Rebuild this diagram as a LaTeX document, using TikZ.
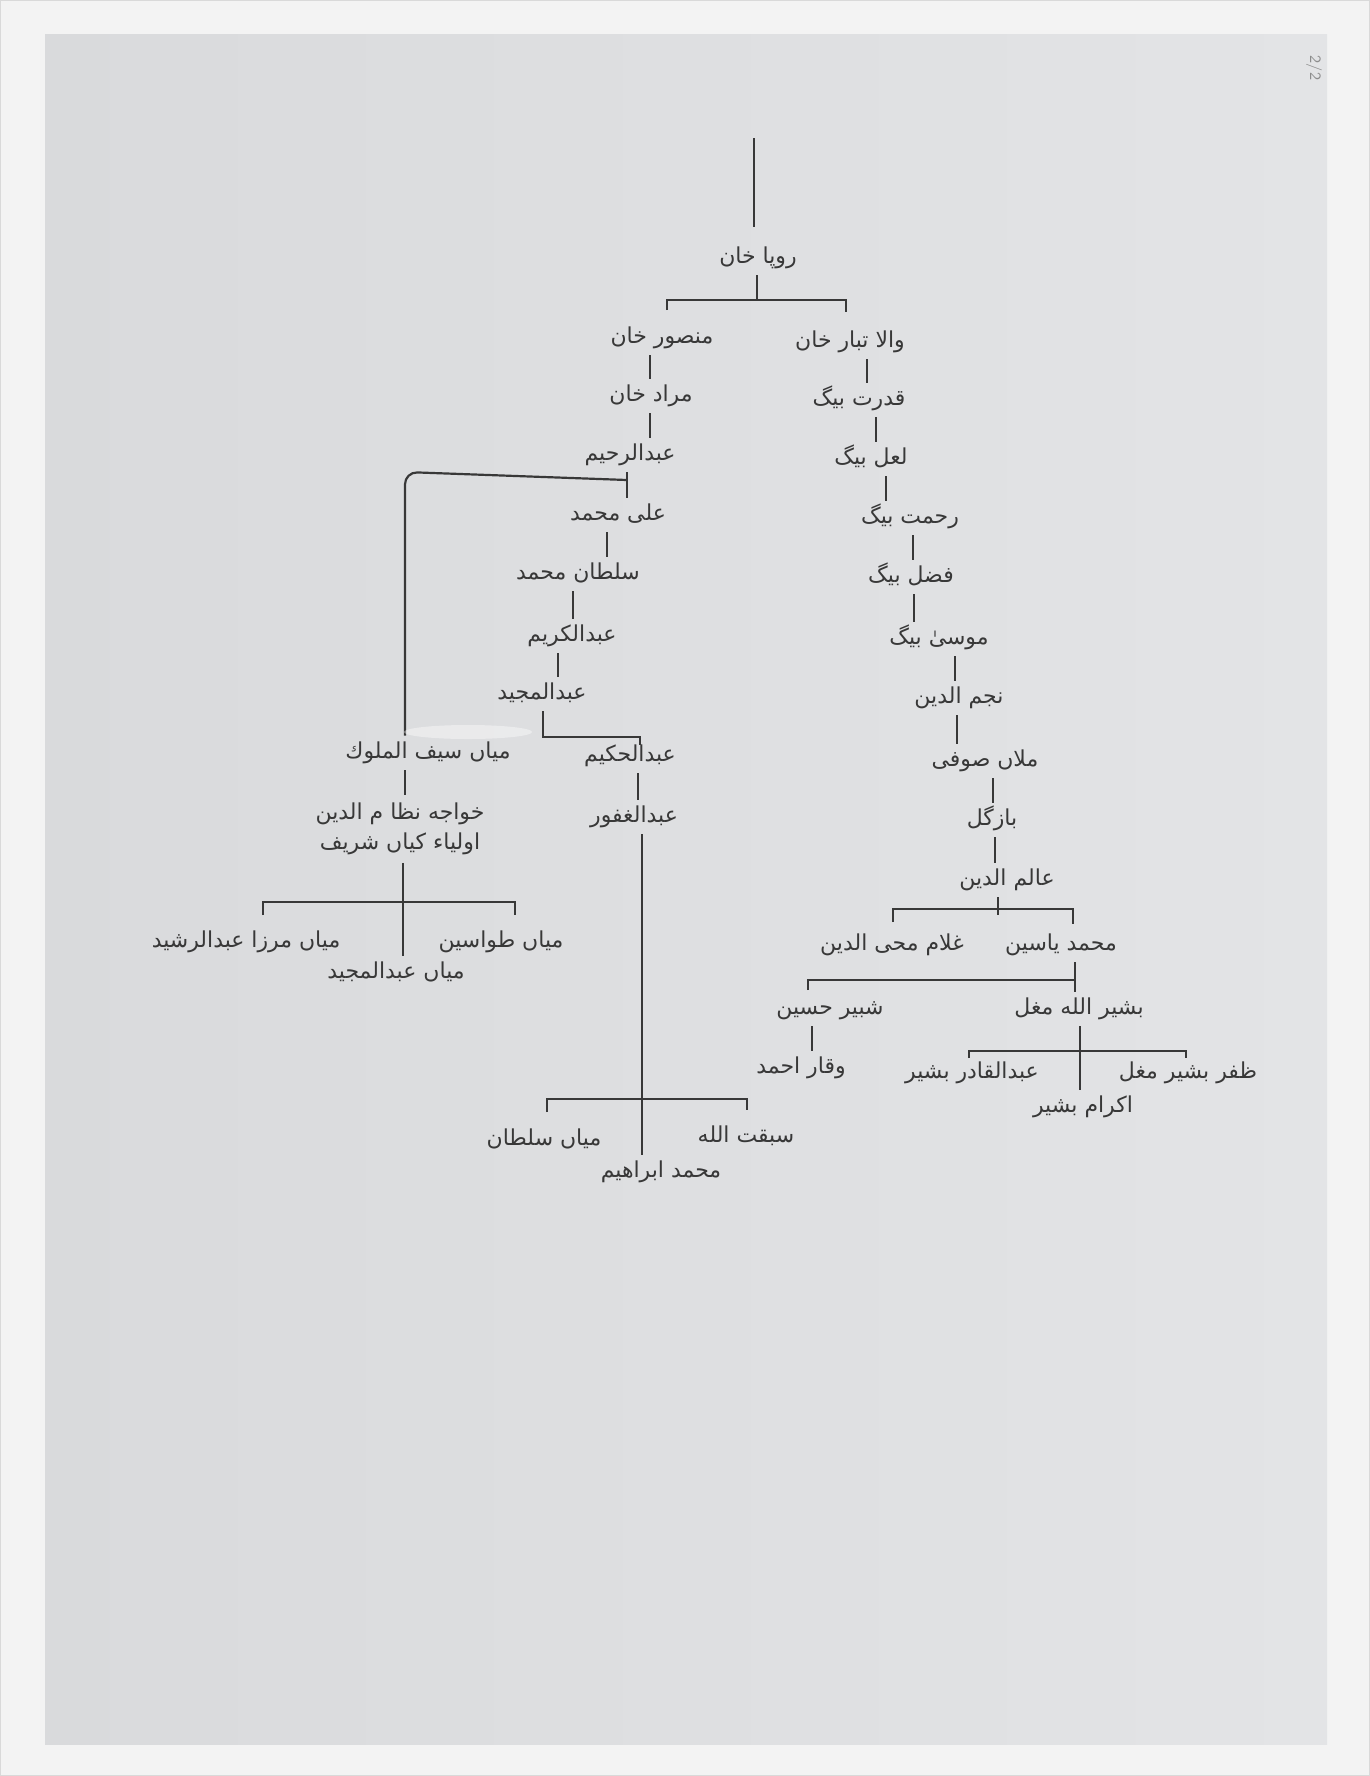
\documentclass[tikz,border=0pt]{standalone}
\usepackage{fontspec}
\usepackage{tikz}
\usetikzlibrary{positioning}
\newfontfamily\urfont[Script=Arabic]{DejaVu Sans}
\TeXXeTstate=1
\definecolor{ink}{HTML}{383838}
\definecolor{pagewhite}{HTML}{F3F3F3}
\definecolor{paperL}{HTML}{D9DADC}
\definecolor{paperR}{HTML}{E3E4E6}
\newcommand{\urtext}[1]{\beginR #1\endR}
% a vertical tick from one name to the next, at column #3
\newcommand{\kin}[3]{\draw[link] (#1.south -| #3,0) -- (#2.north -| #3,0);}

\begin{document}
\begin{tikzpicture}[x=0.02cm, y=-0.02cm,
  link/.style={ink, line width=1.25pt},
  urname/.style={font=\urfont\fontsize{12.5}{17}\selectfont, text=ink, inner sep=0pt},
  person/.style={urname, text height=9pt, text depth=3pt, minimum height=0.68cm}]
  \useasboundingbox (0,0) rectangle (1370,1776);
  \fill[pagewhite] (0,0) rectangle (1370,1776);
  \draw[black!15, line width=1pt] (0,0) rectangle (1370,1776);
  \shade[left color=paperL, right color=paperR] (45,34) rectangle (1327,1744);
  \node[rotate=-90, font=\sffamily\small, text=black!45] (page) at (1314,68) {2/2};

  % root and first split
  \node[person] (root)   at (758,258)  {\urtext{روپا خان}};
  \node[person] (mansur) at (662,338)  {\urtext{منصور خان}};
  \node[person] (wala)   at (850,342)  {\urtext{والا تبار خان}};
  \coordinate (top) at (754,138);
  \draw[link, shorten >=0.28cm] (top) -- (root.north -| top);
  \coordinate (b1) at (757,300);
  \coordinate (b1l) at (667,310);
  \coordinate (b1r) at (846,312);
  \draw[link] (root.south -| b1) -- (b1);
  \draw[link] (b1l) |- (b1) -| (b1r);

  % left line
  \node[person] (murad)  at (651,396)  {\urtext{مراد خان}};
  \node[person] (rahim)  at (630,455)  {\urtext{عبدالرحیم}};
  \node[person] (ali)    at (618,515)  {\urtext{علی محمد}};
  \node[person] (sultan) at (578,574)  {\urtext{سلطان محمد}};
  \node[person] (karim)  at (572,636)  {\urtext{عبدالكریم}};
  \node[person] (majid)  at (542,694)  {\urtext{عبدالمجید}};
  \node[person] (saif)   at (428,753)  {\urtext{میاں سیف الملوك}};
  \node[person] (hakim)  at (630,756)  {\urtext{عبدالحكیم}};
  \node[person] (ghafur) at (634,817)  {\urtext{عبدالغفور}};
  \kin{mansur}{murad}{650}
  \kin{murad}{rahim}{650}
  \kin{rahim}{ali}{627}
  \kin{ali}{sultan}{607}
  \kin{sultan}{karim}{573}
  \kin{karim}{majid}{558}
  \kin{hakim}{ghafur}{638}
  \coordinate (rj) at (627,480);
  \coordinate (rc) at (405,472);
  \draw[link, rounded corners=7] (rj) -- (rc) -- (saif.north -| rc);
  \fill[white, opacity=0.4] (468,732) ellipse (64 and 7);
  \coordinate (mj) at (543,737);
  \coordinate (hk) at (640,745);
  \draw[link] (majid.south -| mj) -- (mj) -| (hk);

  % miyan saif ul muluk
  \node[urname, align=center, minimum height=1.34cm] (nizam) at (400,829)
    {\urtext{خواجه نظا م الدین}\\ \urtext{اولیاء كیاں شریف}};
  \node[person] (tawasin) at (501,942) {\urtext{میاں طواسین}};
  \node[person] (mirza)   at (246,942) {\urtext{میاں مرزا عبدالرشید}};
  \node[person] (amajid)  at (396,973) {\urtext{میاں عبدالمجید}};
  \kin{saif}{nizam}{405}
  \kin{nizam}{amajid}{403}
  \coordinate (nl) at (263,915);
  \coordinate (nj) at (403,902);
  \coordinate (nr) at (515,915);
  \draw[link] (nl) |- (nj) -| (nr);

  % abdul ghafur
  \node[person] (sabqat)  at (746,1137) {\urtext{سبقت الله}};
  \node[person] (msultan) at (544,1140) {\urtext{میاں سلطان}};
  \node[person] (ibrahim) at (661,1172) {\urtext{محمد ابراهیم}};
  \kin{ghafur}{ibrahim}{642}
  \coordinate (gl) at (547,1112);
  \coordinate (gj) at (642,1099);
  \coordinate (gr) at (747,1110);
  \draw[link] (gl) |- (gj) -| (gr);

  % right line
  \node[person] (qudrat) at (859,400)  {\urtext{قدرت بیگ}};
  \node[person] (lal)    at (871,459)  {\urtext{لعل بیگ}};
  \node[person] (rahmat) at (910,518)  {\urtext{رحمت بیگ}};
  \node[person] (fazal)  at (911,577)  {\urtext{فضل بیگ}};
  \node[person] (musa)   at (939,639)  {\urtext{موسیٰ بیگ}};
  \node[person] (najm)   at (959,698)  {\urtext{نجم الدین}};
  \node[person] (mulla)  at (985,761)  {\urtext{ملاں صوفی}};
  \node[person] (bazgul) at (992,820)  {\urtext{بازگل}};
  \node[person] (alam)   at (1007,880) {\urtext{عالم الدین}};
  \kin{wala}{qudrat}{867}
  \kin{qudrat}{lal}{876}
  \kin{lal}{rahmat}{886}
  \kin{rahmat}{fazal}{913}
  \kin{fazal}{musa}{914}
  \kin{musa}{najm}{955}
  \kin{najm}{mulla}{957}
  \kin{mulla}{bazgul}{993}
  \kin{bazgul}{alam}{995}

  % alam ud din
  \node[person] (ghulam)  at (892,945)   {\urtext{غلام محی الدین}};
  \node[person] (yasin)   at (1061,945)  {\urtext{محمد یاسین}};
  \node[person] (shabbir) at (830,1009)  {\urtext{شبیر حسین}};
  \node[person] (bashir)  at (1079,1009) {\urtext{بشیر الله مغل}};
  \node[person] (waqar)   at (801,1068)  {\urtext{وقار احمد}};
  \node[person] (qadir)   at (972,1073)  {\urtext{عبدالقادر بشیر}};
  \node[person] (zafar)   at (1188,1073) {\urtext{ظفر بشیر مغل}};
  \node[person] (ikram)   at (1083,1107) {\urtext{اكرام بشیر}};
  \coordinate (ab) at (998,915);
  \coordinate (al) at (893,922);
  \coordinate (aj) at (998,909);
  \coordinate (ar) at (1073,924);
  \draw[link] (alam.south -| ab) -- (ab);
  \draw[link] (al) |- (aj) -| (ar);
  \kin{yasin}{bashir}{1075}
  \coordinate (yl) at (808,990);
  \coordinate (yj) at (1075,980);
  \draw[link] (yl) |- (yj);
  \kin{shabbir}{waqar}{812}
  \kin{bashir}{ikram}{1080}
  \coordinate (ql) at (969,1058);
  \coordinate (bj) at (1080,1051);
  \coordinate (zr) at (1186,1058);
  \draw[link] (ql) |- (bj) -| (zr);
\end{tikzpicture}
\end{document}
